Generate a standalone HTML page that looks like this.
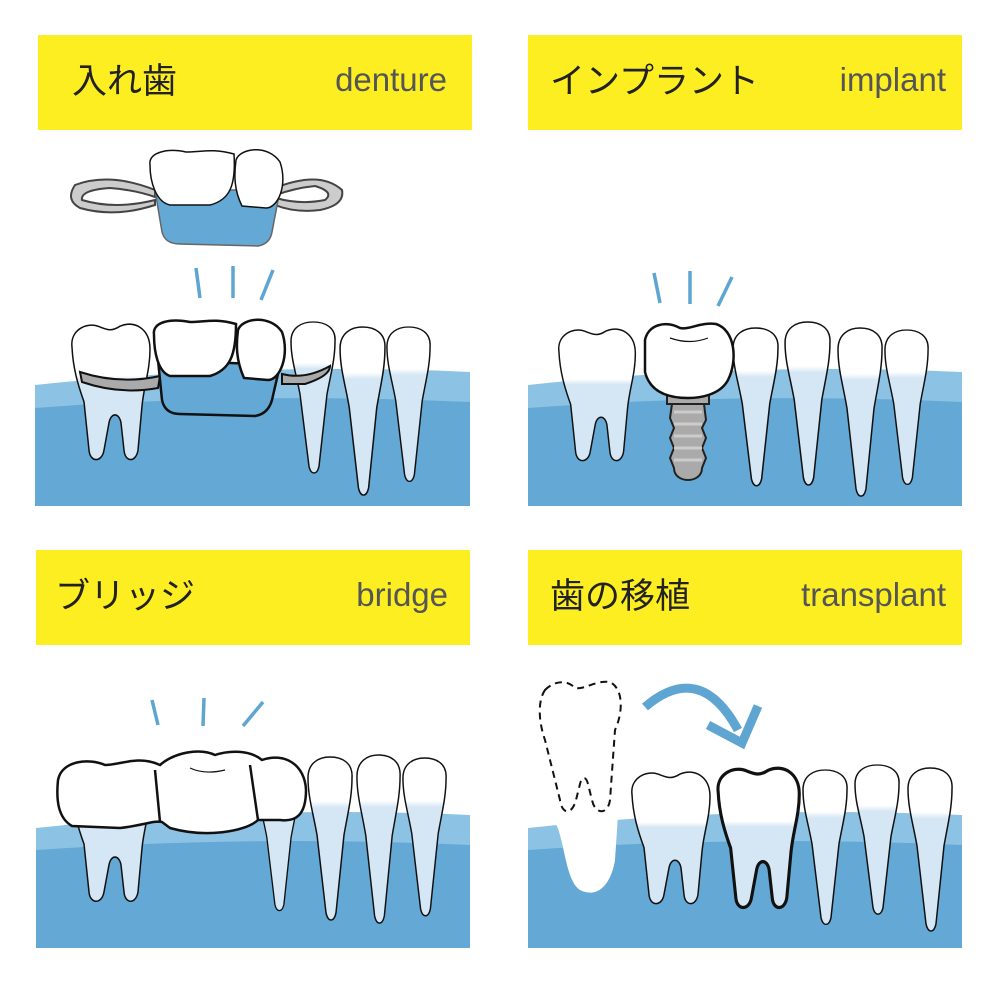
<!DOCTYPE html>
<html><head><meta charset="utf-8"><style>
html,body{margin:0;padding:0;background:#fff}
svg{display:block}
.jp{font-family:"Liberation Sans","Noto Sans CJK JP",sans-serif;font-size:35px;fill:#222}
.en{font-family:"Liberation Sans",sans-serif;font-size:33px;fill:#555}
.t{stroke:#111;stroke-width:1.5;vector-effect:non-scaling-stroke}
.tb{stroke:#111;stroke-width:3;vector-effect:non-scaling-stroke}
.ray{stroke:#5fa5d2;stroke-width:3.5}
</style></head><body>
<svg width="1000" height="986" viewBox="0 0 1000 986" xmlns="http://www.w3.org/2000/svg">
<defs>
<linearGradient id="gm" x1="0" y1="0" x2="0" y2="1"><stop offset="0.38" stop-color="#fff"/><stop offset="0.42" stop-color="#d5e7f4"/></linearGradient>
<linearGradient id="gi" x1="0" y1="0" x2="0" y2="1"><stop offset="0.27" stop-color="#fff"/><stop offset="0.31" stop-color="#d5e7f4"/></linearGradient>
<path id="molar" d="M4,24 C2,8 18,0 30,4 C40,8 44,9 52,4 C66,-2 82,6 82,26 C82,46 76,60 74,80 L70,122 C68,134 57,134 56,122 L53,96 C51,86 43,86 41,96 L36,122 C34,134 22,134 21,122 L16,76 C10,60 5,44 4,24 Z"/>
<path id="inc" d="M3,22 C3,6 14,0 25,0 C37,0 48,6 47,22 C47,42 43,58 39,82 L31,164 C29,174 23,174 21,164 L12,82 C8,58 3,42 3,22 Z"/>
</defs>

<rect x="38" y="35" width="434" height="95" fill="#fdee22"/>
<rect x="528" y="35" width="434" height="95" fill="#fdee22"/>
<rect x="36" y="550" width="434" height="95" fill="#fdee22"/>
<rect x="528" y="550" width="434" height="95" fill="#fdee22"/>
<text class="jp" x="72" y="93">入れ歯</text>
<text class="en" x="447" y="91" text-anchor="end">denture</text>
<text class="jp" x="550" y="93">インプラント</text>
<text class="en" x="946" y="91" text-anchor="end">implant</text>
<text class="jp" x="55" y="608">ブリッジ</text>
<text class="en" x="448" y="606" text-anchor="end">bridge</text>
<text class="jp" x="550" y="608">歯の移植</text>
<text class="en" x="946" y="606" text-anchor="end">transplant</text>

<g>
<path d="M35,385 Q250,362 470,372 L470,506 L35,506Z" fill="#8cc3e4"/>
<path d="M35,408 Q250,392 470,402 L470,506 L35,506Z" fill="#64a8d5"/>
<path d="M528,385 Q740,362 962,372 L962,506 L528,506Z" fill="#8cc3e4"/>
<path d="M528,408 Q740,392 962,402 L962,506 L528,506Z" fill="#64a8d5"/>
<path d="M36,828 Q250,805 470,815 L470,948 L36,948Z" fill="#8cc3e4"/>
<path d="M36,850 Q250,835 470,845 L470,948 L36,948Z" fill="#64a8d5"/>
<path d="M528,828 Q740,805 962,815 L962,948 L528,948Z" fill="#8cc3e4"/>
<path d="M528,850 Q740,835 962,845 L962,948 L528,948Z" fill="#64a8d5"/>
<path d="M555,822 C565,840 565,880 580,890 C600,900 612,880 615,860 L618,815 Z" fill="#fff"/>
</g>

<use href="#molar" transform="translate(68,322) scale(1,1.05)" fill="url(#gm)" class="t"/>
<use href="#inc" transform="translate(288,322) scale(1,0.88)" fill="url(#gi)" class="t"/>
<use href="#inc" transform="translate(337,327) scale(1.02,0.98)" fill="url(#gi)" class="t"/>
<use href="#inc" transform="translate(384,327) scale(0.98,0.9)" fill="url(#gi)" class="t"/>
<path d="M80,372 Q120,385 160,376 L158,388 Q120,395 82,382 Z" fill="#aaa" stroke="#111" stroke-width="2"/>
<path d="M282,374 Q305,380 330,366 Q330,376 305,384 L282,384Z" fill="#aaa" stroke="#111" stroke-width="2"/>
<path d="M158,360 L162,400 Q165,414 180,414 L255,416 Q268,414 272,400 L280,365 Z" fill="#64a8d5" stroke="#111" stroke-width="2.5"/>
<path d="M154,335 C152,322 170,318 190,322 C205,322 215,318 236,324 C236,355 230,370 210,376 L170,376 C158,372 154,352 154,335Z" fill="#fff" stroke="#111" stroke-width="2.5"/>
<path d="M238,330 C242,318 270,314 282,332 C290,355 280,380 268,380 L244,378 C236,360 236,345 238,330Z" fill="#fff" stroke="#111" stroke-width="2.5"/>
<path d="M155,190 Q110,172 75,185 Q65,200 80,208 Q115,218 155,205 L155,200 Q115,210 82,200 Q80,190 110,188 Q135,190 155,197Z" fill="#ccc" stroke="#444" stroke-width="2"/>
<path d="M275,188 Q320,170 342,190 Q345,205 320,210 Q295,213 275,205 L276,198 Q300,205 325,200 Q335,192 315,186 Q295,188 276,195Z" fill="#ccc" stroke="#444" stroke-width="2"/>
<path d="M155,190 L162,232 Q165,244 180,244 L258,246 Q270,244 272,232 L280,190Z" fill="#64a8d5" stroke="#666" stroke-width="1.5"/>
<path d="M150,165 C148,152 168,148 186,152 C202,152 212,148 234,154 C236,185 230,200 210,205 L170,205 C156,202 150,182 150,165Z" fill="#fff" stroke="#111" stroke-width="1.5"/>
<path d="M236,160 C240,148 268,144 280,162 C288,185 278,208 266,208 L242,206 C234,190 234,175 236,160Z" fill="#fff" stroke="#111" stroke-width="1.5"/>
<line class="ray" x1="196" y1="268" x2="200" y2="298"/>
<line class="ray" x1="233" y1="266" x2="233" y2="298"/>
<line class="ray" x1="273" y1="270" x2="261" y2="300"/>

<use href="#molar" transform="translate(555,327) scale(0.98,1.02)" fill="url(#gm)" class="t"/>
<use href="#inc" transform="translate(730,328) scale(1.02,0.92)" fill="url(#gi)" class="t"/>
<use href="#inc" transform="translate(782,322) scale(1.02,0.95)" fill="url(#gi)" class="t"/>
<use href="#inc" transform="translate(835,328) scale(1.0,0.98)" fill="url(#gi)" class="t"/>
<use href="#inc" transform="translate(882,330) scale(0.98,0.9)" fill="url(#gi)" class="t"/>
<rect x="667" y="392" width="42" height="12" fill="#aaa" stroke="#222" stroke-width="2"/>
<path d="M672,404 L704,404 L706,420 L702,428 L706,438 L702,448 L706,458 L702,468 C702,484 674,484 674,468 L670,458 L674,448 L670,438 L674,428 L670,418 Z" fill="#aaa" stroke="#222" stroke-width="2"/>
<path d="M674,412 H702 M674,424 H702 M674,436 H702 M674,448 H702 M674,460 H702" stroke="#ccc" stroke-width="3"/>
<path d="M645,340 C648,325 665,320 680,328 C690,330 700,322 716,324 C735,330 738,360 728,380 C720,395 700,398 688,398 C668,398 650,392 645,372 Z" fill="#fff" stroke="#111" stroke-width="2.5"/>
<path d="M670,338 Q690,345 708,338" fill="none" stroke="#111" stroke-width="1.2"/>
<line class="ray" x1="654" y1="273" x2="660" y2="303"/>
<line class="ray" x1="690" y1="271" x2="690" y2="304"/>
<line class="ray" x1="732" y1="277" x2="718" y2="306"/>

<use href="#molar" transform="translate(68,765) scale(1,1.04)" fill="url(#gm)" class="t"/>
<use href="#inc" transform="translate(256,770) scale(0.9,0.82)" fill="url(#gi)" class="t"/>
<use href="#inc" transform="translate(305,757) scale(1,0.95)" fill="url(#gi)" class="t"/>
<use href="#inc" transform="translate(354,755) scale(0.98,0.98)" fill="url(#gi)" class="t"/>
<use href="#inc" transform="translate(400,758) scale(0.98,0.92)" fill="url(#gi)" class="t"/>
<path d="M58,780 C62,760 90,758 105,765 C120,765 138,755 160,765 C175,752 200,748 215,755 C230,750 250,750 262,760 C285,752 305,765 306,790 C306,815 296,822 280,820 L258,820 C245,832 205,838 170,828 L162,822 C155,820 140,826 120,828 L72,826 C58,818 56,800 58,780Z" fill="#fff" stroke="#111" stroke-width="2.5"/>
<path d="M155,770 L160,822 M250,765 L258,820" stroke="#111" stroke-width="2.5" fill="none"/>
<path d="M190,768 Q205,775 225,770" fill="none" stroke="#111" stroke-width="1.2"/>
<line class="ray" x1="152" y1="700" x2="158" y2="725"/>
<line class="ray" x1="204" y1="698" x2="203" y2="726"/>
<line class="ray" x1="263" y1="702" x2="243" y2="726"/>

<path d="M545,690 C555,680 568,680 575,688 C585,690 595,680 610,682 C625,690 622,715 615,730 L610,800 C608,815 595,815 592,800 L588,784 C586,776 582,776 580,784 L576,800 C572,815 562,815 560,800 L545,740 C538,720 538,700 545,690Z" fill="none" stroke="#111" stroke-width="2" stroke-dasharray="7,5"/>
<use href="#molar" transform="translate(628,770) scale(1,1.02)" fill="url(#gm)" class="t"/>
<use href="#molar" transform="translate(714,766) scale(1.04,1.08)" fill="url(#gm)" class="tb"/>
<use href="#inc" transform="translate(800,770) scale(1,0.9)" fill="url(#gi)" class="t"/>
<use href="#inc" transform="translate(852,765) scale(1,0.87)" fill="url(#gi)" class="t"/>
<use href="#inc" transform="translate(905,768) scale(1,0.95)" fill="url(#gi)" class="t"/>
<path d="M645,707 Q700,660 738,730" fill="none" stroke="#5fa5d2" stroke-width="9"/>
<path d="M708,725 L742,743 L758,706" fill="none" stroke="#5fa5d2" stroke-width="9"/>
</svg>
</body></html>
